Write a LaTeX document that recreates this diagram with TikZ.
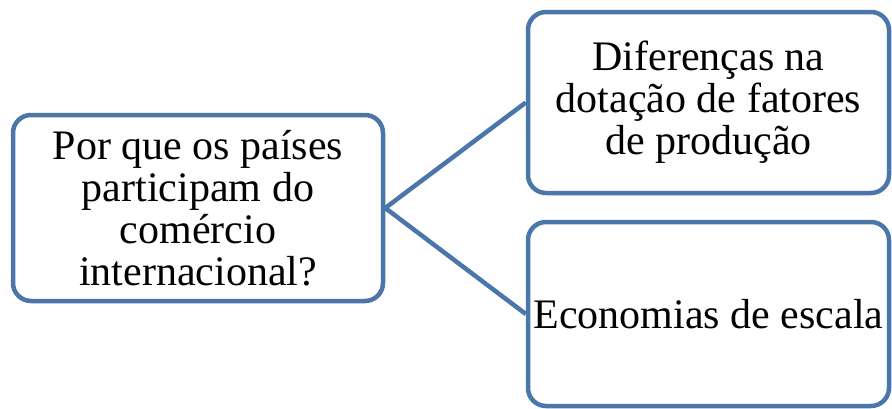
\documentclass[tikz,border=0pt]{standalone}
\usepackage{fontspec}
\setmainfont{Liberation Serif}
\usetikzlibrary{positioning}
\definecolor{boxblue}{HTML}{4A76A9}

\begin{document}
\begin{tikzpicture}[x=1pt, y=-1pt,
    box/.style={draw=boxblue, line width=4.5pt, rounded corners=18pt, fill=white,
      align=center, inner sep=0pt, font=\fontsize{42}{42}\selectfont},
    link/.style={draw=boxblue, line width=4.5pt}]

    \useasboundingbox (0,0) rectangle (892,408);

    % Nodes
    \node at (198,208) (question) [box, minimum width=370pt, minimum height=186pt]
      {Por que os países\\participam do\\comércio\\internacional?};
    \node at (708.5,102.5) (factors) [box, minimum width=361pt, minimum height=181pt]
      {Diferenças na\\dotação de fatores\\de produção};
    \node at (708.5,314) (scale) [box, minimum width=361pt, minimum height=184pt]
      {Economias de escala};

    % Lines
    \draw[link] (question.east) -- (factors.west);
    \draw[link] (question.east) -- (scale.west);

\end{tikzpicture}
\end{document}
